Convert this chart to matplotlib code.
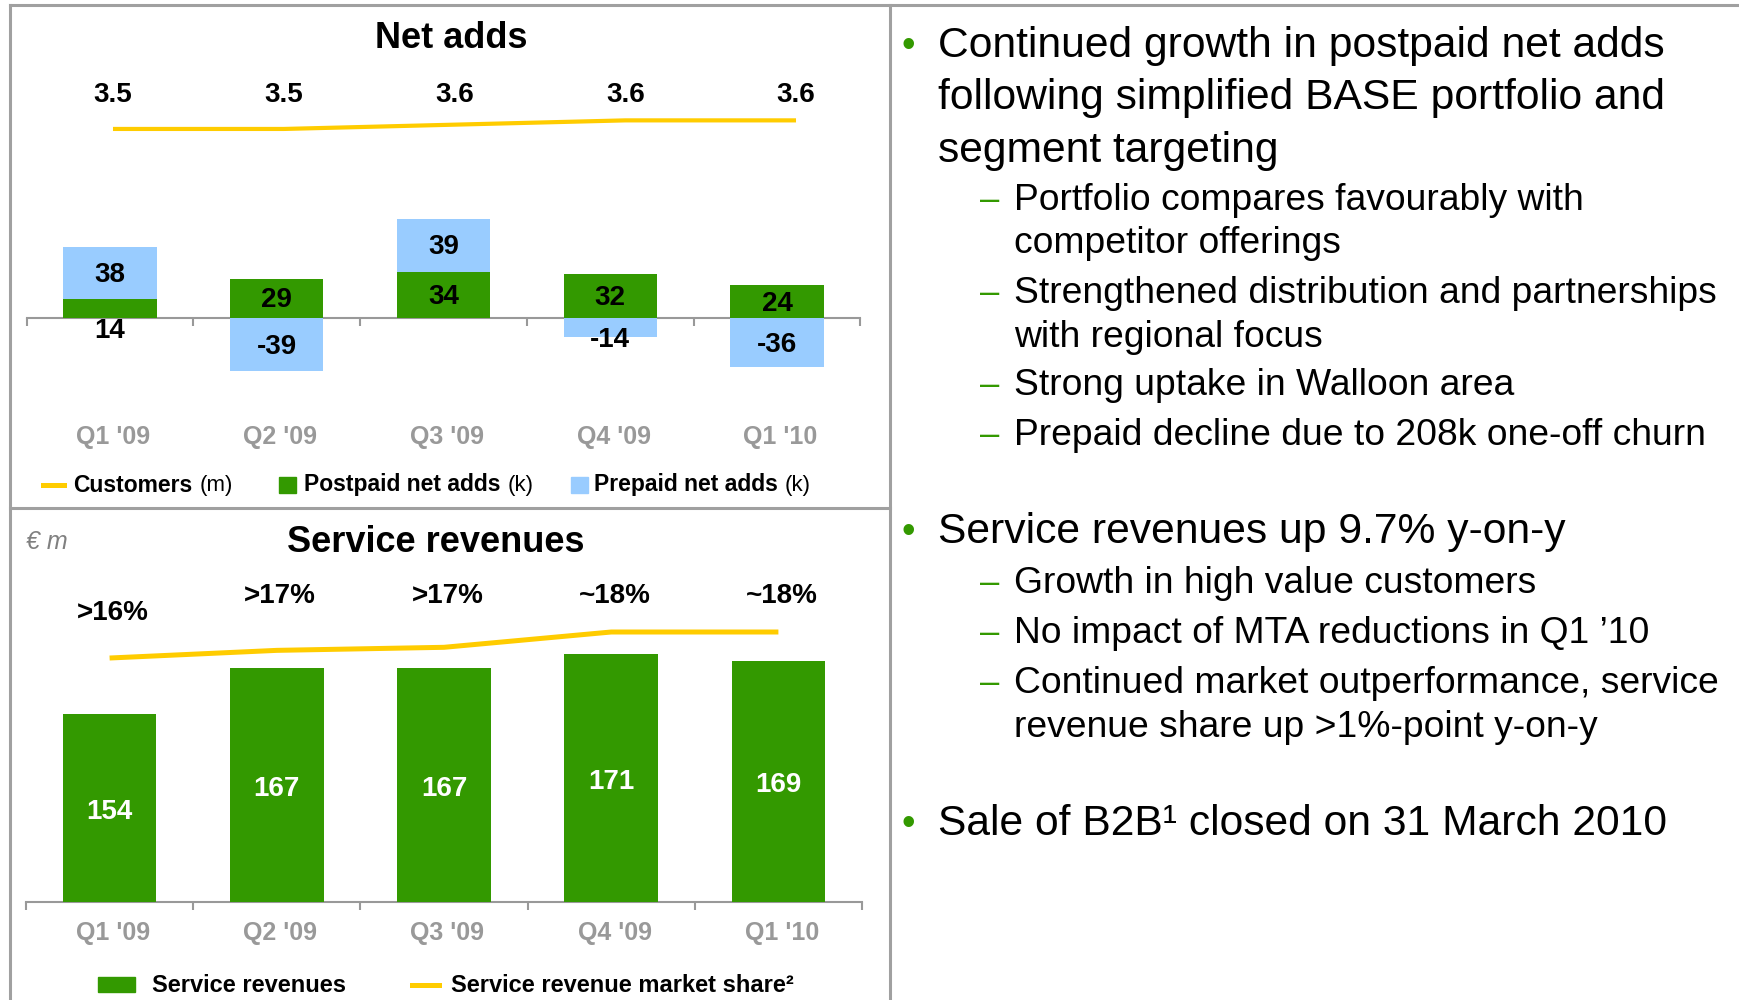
import numpy as np
import matplotlib
matplotlib.use("Agg")
import matplotlib.pyplot as plt
from matplotlib.lines import Line2D
from matplotlib.patches import Rectangle
from matplotlib.transforms import blended_transform_factory

plt.rcParams['font.family'] = ['Liberation Sans', 'DejaVu Sans']

# --- data ---
quarters = ["Q1 '09", "Q2 '09", "Q3 '09", "Q4 '09", "Q1 '10"]
customers = [3.53, 3.53, 3.56, 3.59, 3.59]          # m
customer_labels = ["3.5", "3.5", "3.6", "3.6", "3.6"]
postpaid = [14, 29, 34, 32, 24]                     # k
prepaid = [38, -39, 39, -14, -36]                   # k
service_rev = [154, 167, 167, 171, 169]             # EUR m
market_share = [16.3, 16.8, 17.0, 18.0, 18.0]       # %
share_labels = [">16%", ">17%", ">17%", "~18%", "~18%"]

bullets = [
    (0, ["Continued growth in postpaid net adds",
         "following simplified BASE portfolio and",
         "segment targeting"], [57, 109.5, 162]),
    (1, ["Portfolio compares favourably with", "competitor offerings"], [210, 253]),
    (1, ["Strengthened distribution and partnerships", "with regional focus"], [303, 347]),
    (1, ["Strong uptake in Walloon area"], [395]),
    (1, ["Prepaid decline due to 208k one-off churn"], [445]),
    (0, ["Service revenues up 9.7% y-on-y"], [543]),
    (1, ["Growth in high value customers"], [593]),
    (1, ["No impact of MTA reductions in Q1 \u201910"], [643]),
    (1, ["Continued market outperformance, service",
         "revenue share up >1%-point y-on-y"], [693, 737]),
    (0, ["Sale of B2B\u00b9 closed on 31 March 2010"], [835]),
]

GREEN = '#339900'
BLUE = '#99CCFF'
YELLOW = '#FFCC00'
GRAY = '#999999'
W, H = 1740, 1000

fig = plt.figure(figsize=(17.4, 10), dpi=100)
fig.patch.set_facecolor('white')
renderer = fig.canvas.get_renderer()


def rect(x0, y0, x1, y1):
    return [x0 / W, 1 - y1 / H, (x1 - x0) / W, (y1 - y0) / H]


def fy(py):
    return 1 - py / H


def fx(px):
    return px / W


x = np.arange(len(quarters))

# frame lines
for xs, ys in [([10, W], [5, 5]), ([10, 10], [5, H]), ([890, 890], [5, H]), ([10, 890], [508, 508])]:
    fig.add_artist(Line2D([fx(v) for v in xs], [fy(v) for v in ys], color='#A0A0A0', lw=2.2))


def style_axis(ax):
    for s in ['top', 'left', 'right']:
        ax.spines[s].set_visible(False)
    ax.spines['bottom'].set_color(GRAY)
    ax.spines['bottom'].set_linewidth(1.5)
    ax.set_xlim(-0.5, len(quarters) - 0.5)
    ax.set_xticks(np.arange(-0.5, len(quarters)), labels=[])
    ax.tick_params(axis='x', direction='out', length=6, width=1.5, color=GRAY)
    ax.set_yticks([])
    ax.patch.set_alpha(0)


# ---------------- Net adds ----------------
ax1 = fig.add_axes(rect(26.6, 140, 860.4, 420))
style_axis(ax1)
ax1.spines['bottom'].set_position(('data', 0))
ax1.set_ylim(-75, 130.9)
post = np.array(postpaid)
pre = np.array(prepaid)
pre_bottom = np.where(pre > 0, post, 0)
ax1.bar(x, post, width=0.56, color=GREEN, zorder=3)
ax1.bar(x, pre, bottom=pre_bottom, width=0.56, color=BLUE, zorder=3)
for i in range(len(x)):
    for v, b in [(post[i], 0), (pre[i], pre_bottom[i])]:
        yc = b + v / 2
        if abs(v) < 20:
            yc = min(yc, 0) - 8
        ax1.text(x[i], yc - 1.5, f"{v}", ha='center', va='center', fontsize=20,
                 fontweight='bold', color='black', zorder=4)

# customers line sits on a slightly wider x scale than the bars
axc = fig.add_axes(rect(27.6, 60, 881.4, 160))
axc.set_xlim(-0.5, len(quarters) - 0.5)
axc.set_ylim(3.313, 4.012)
axc.axis('off')
axc.plot(x, customers, color=YELLOW, lw=3, solid_capstyle='butt')
tc = blended_transform_factory(axc.transData, fig.transFigure)
for i, lab in enumerate(customer_labels):
    axc.text(x[i], fy(95), lab, transform=tc, ha='center', va='center',
             fontsize=20, fontweight='bold')

t1 = blended_transform_factory(ax1.transData, fig.transFigure)
for i, q in enumerate(quarters):
    ax1.text(x[i] + 0.02, fy(437), q, transform=t1, ha='center', va='center',
             fontsize=18, fontweight='bold', color=GRAY)

fig.text(fx(451), fy(38), "Net adds", ha='center', va='center', fontsize=26, fontweight='bold')


def legend_text(px, py, bold, normal=None, size=16.5):
    t = fig.text(fx(px), fy(py), bold, ha='left', va='center', fontsize=size, fontweight='bold')
    if normal:
        bb = t.get_window_extent(renderer)
        fig.text(fx(bb.x1 + 7), fy(py), normal, ha='left', va='center', fontsize=size - 0.5)


fig.add_artist(Line2D([fx(43), fx(64)], [fy(485), fy(485)], color=YELLOW, lw=3.6))
legend_text(73, 485, "Customers", "(m)")
fig.add_artist(Rectangle((fx(279), fy(493)), 17 / W, 16 / H, color=GREEN))
legend_text(304, 485, "Postpaid net adds", "(k)")
fig.add_artist(Rectangle((fx(571), fy(493)), 17 / W, 16 / H, color=BLUE))
legend_text(594, 485, "Prepaid net adds", "(k)")

# ---------------- Service revenues ----------------
ax2 = fig.add_axes(rect(26, 640, 862, 902))
style_axis(ax2)
ylow = 101
ax2.set_ylim(ylow, 175)
ax2.bar(x, service_rev, width=0.56, color=GREEN, zorder=3)
for i, v in enumerate(service_rev):
    ax2.text(x[i], (v + ylow) / 2 - 1, f"{v}", ha='center', va='center', fontsize=20,
             fontweight='bold', color='white', zorder=4)

axs = fig.add_axes(rect(26, 560, 862, 700))
axs.set_xlim(-0.5, len(quarters) - 0.5)
axs.set_ylim(13.556, 22.706)
axs.axis('off')
axs.plot(x, market_share, color=YELLOW, lw=3.6, solid_capstyle='butt')
ts = blended_transform_factory(axs.transData, fig.transFigure)
for i, lab in enumerate(share_labels):
    # first label sits a bit lower, closer to its lower line point
    row = 613 if i == 0 else 596
    axs.text(x[i] + 0.02, fy(row), lab, transform=ts, ha='center', va='center',
             fontsize=20, fontweight='bold')

t2 = blended_transform_factory(ax2.transData, fig.transFigure)
for i, q in enumerate(quarters):
    ax2.text(x[i] + 0.02, fy(933), q, transform=t2, ha='center', va='center',
             fontsize=18, fontweight='bold', color=GRAY)

fig.text(fx(436), fy(542), "Service revenues", ha='center', va='center', fontsize=26, fontweight='bold')
fig.text(fx(26), fy(542), "\u20ac m", ha='left', va='center', fontsize=18, style='italic', color='#808080')

fig.add_artist(Rectangle((fx(98), fy(992)), 37 / W, 15 / H, color=GREEN))
fig.text(fx(152), fy(985), "Service revenues", ha='left', va='center', fontsize=17, fontweight='bold')
fig.add_artist(Line2D([fx(412), fx(439)], [fy(985), fy(985)], color=YELLOW, lw=3.6))
fig.text(fx(451), fy(985), "Service revenue market share\u00b2", ha='left', va='center',
         fontsize=17, fontweight='bold')

# ---------------- bullet text ----------------
for level, lines, ys in bullets:
    if level == 0:
        fig.text(fx(902), fy(ys[0]), "\u2022", ha='left', va='baseline', fontsize=28, color=GREEN)
        for ln, yb in zip(lines, ys):
            fig.text(fx(938), fy(yb), ln, ha='left', va='baseline', fontsize=30.7)
    else:
        fig.text(fx(980), fy(ys[0]), "\u2013", ha='left', va='baseline', fontsize=25, color=GREEN)
        for ln, yb in zip(lines, ys):
            fig.text(fx(1014), fy(yb), ln, ha='left', va='baseline', fontsize=26.8)

fig.savefig("out.png", dpi=100, facecolor='white')
